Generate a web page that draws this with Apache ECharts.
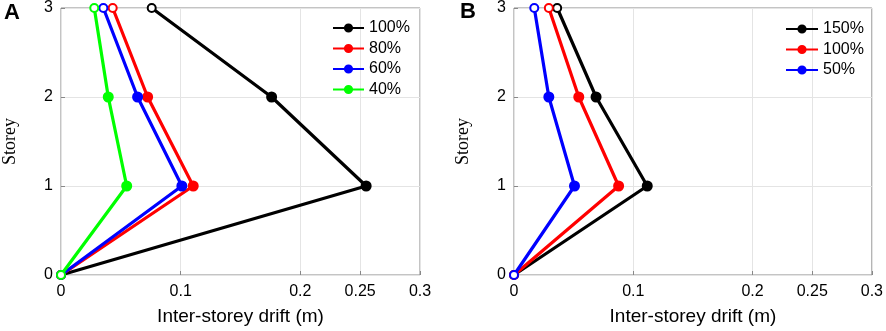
<!DOCTYPE html>
<html>
<head>
<meta charset="utf-8">
<script src="https://cdn.jsdelivr.net/npm/echarts@6/dist/echarts.min.js"></script>
<style>
  html, body { margin: 0; padding: 0; background: #fff; }
  #chart { width: 886px; height: 331px; }
</style>
</head>
<body>
<div id="chart"></div>
<script>
// storey levels (y) shared by both panels
const storeys = [0, 1, 2, 3];
const xTicks = [0, 0.1, 0.2, 0.25, 0.3];
const yTicks = [0, 1, 2, 3];

// panel A - drift per storey
const namesA = ['100%', '80%', '60%', '40%'];
const colorsA = ['#000000', '#ff0000', '#0000ff', '#00ff00'];
const driftA100 = [0, 0.255, 0.176, 0.0758];
const driftA80 = [0, 0.1105, 0.0724, 0.0432];
const driftA60 = [0, 0.101, 0.064, 0.0354];
const driftA40 = [0, 0.0549, 0.0395, 0.0278];

// panel B (trailing space keeps legend names apart from panel A)
const namesB = ['150% ', '100% ', '50% '];
const colorsB = ['#000000', '#ff0000', '#0000ff'];
const driftB150 = [0, 0.1117, 0.0688, 0.0362];
const driftB100 = [0, 0.0877, 0.0543, 0.0292];
const driftB50 = [0, 0.0507, 0.0292, 0.017];

const tickFont = { fontFamily: 'Liberation Sans', fontSize: 16, color: '#000' };

function makeX(gridIndex) {
  return {
    type: 'value', gridIndex: gridIndex, min: 0, max: 0.3, interval: 0.05,
    name: 'Inter-storey drift (m)', nameLocation: 'middle', nameGap: 32,
    nameTextStyle: { fontFamily: 'Liberation Sans', fontSize: 19, color: '#000' },
    axisLine: { show: false },
    axisTick: { show: true, inside: true, length: 4, customValues: xTicks, lineStyle: { color: '#888' } },
    axisLabel: { ...tickFont, margin: 9, customValues: xTicks, formatter: v => String(+v.toFixed(2)) },
    splitLine: { show: true, lineStyle: { color: '#e4e4e4', width: 1 } }
  };
}

function makeY(gridIndex) {
  return {
    type: 'value', gridIndex: gridIndex, min: 0, max: 3, interval: 1,
    name: 'Storey', nameLocation: 'middle', nameGap: 42,
    nameTextStyle: { fontFamily: 'Liberation Serif', fontSize: 18, color: '#000' },
    axisLine: { show: false },
    axisTick: { show: true, inside: true, length: 4, lineStyle: { color: '#888' } },
    axisLabel: { ...tickFont, margin: 8, customValues: yTicks },
    splitLine: { show: true, lineStyle: { color: '#e4e4e4', width: 1 } }
  };
}

function makeSeries(name, color, drift, idx, z) {
  return {
    name: name, type: 'line', xAxisIndex: idx, yAxisIndex: idx,
    color: color,
    symbol: 'circle', symbolSize: 9,
    lineStyle: { width: 3.2, color: color },
    itemStyle: { color: color, borderColor: color, borderWidth: 2 },
    data: drift.map((x, i) => {
      // end markers at the frame are drawn open
      const edge = i === 0 || i === drift.length - 1;
      return edge ? { value: [x, storeys[i]], symbol: 'emptyCircle', symbolSize: 8 } : { value: [x, storeys[i]] };
    }),
    clip: false,
    z: z
  };
}

// later series sit on top, as in the original plot
const seriesA = [driftA100, driftA80, driftA60, driftA40].map((d, i) => makeSeries(namesA[i], colorsA[i], d, 0, 3 + i));
const seriesB = [driftB150, driftB100, driftB50].map((d, i) => makeSeries(namesB[i], colorsB[i], d, 1, 3 + i));

const legendText = { fontFamily: 'Liberation Sans', fontSize: 16, color: '#000', lineHeight: 14 };

const options = {
  animation: false,
  backgroundColor: '#fff',
  title: [
    { text: 'A', left: 4, top: 2, padding: 0, textStyle: { fontFamily: 'Liberation Sans', fontWeight: 'bold', fontSize: 22, color: '#000' } },
    { text: 'B', left: 460, top: 1, padding: 0, textStyle: { fontFamily: 'Liberation Sans', fontWeight: 'bold', fontSize: 22, color: '#000' } }
  ],
  grid: [
    { left: 61, right: 466, top: 8, bottom: 52, show: true, borderColor: '#888', borderWidth: 1, backgroundColor: 'transparent' },
    { left: 514, right: 13, top: 8, bottom: 52, show: true, borderColor: '#888', borderWidth: 1, backgroundColor: 'transparent' }
  ],
  legend: [
    {
      data: namesA, orient: 'vertical', left: 332, top: 20, padding: 0,
      itemWidth: 31, itemHeight: 9, itemGap: 4.5, textStyle: legendText
    },
    {
      data: namesB, orient: 'vertical', left: 785, top: 21, padding: 0,
      itemWidth: 32, itemHeight: 9, itemGap: 4.5, textStyle: legendText
    }
  ],
  xAxis: [makeX(0), makeX(1)],
  yAxis: [makeY(0), makeY(1)],
  series: [...seriesA, ...seriesB]
};

const myChart = echarts.init(document.getElementById('chart'));
myChart.setOption(options);
</script>
</body>
</html>
